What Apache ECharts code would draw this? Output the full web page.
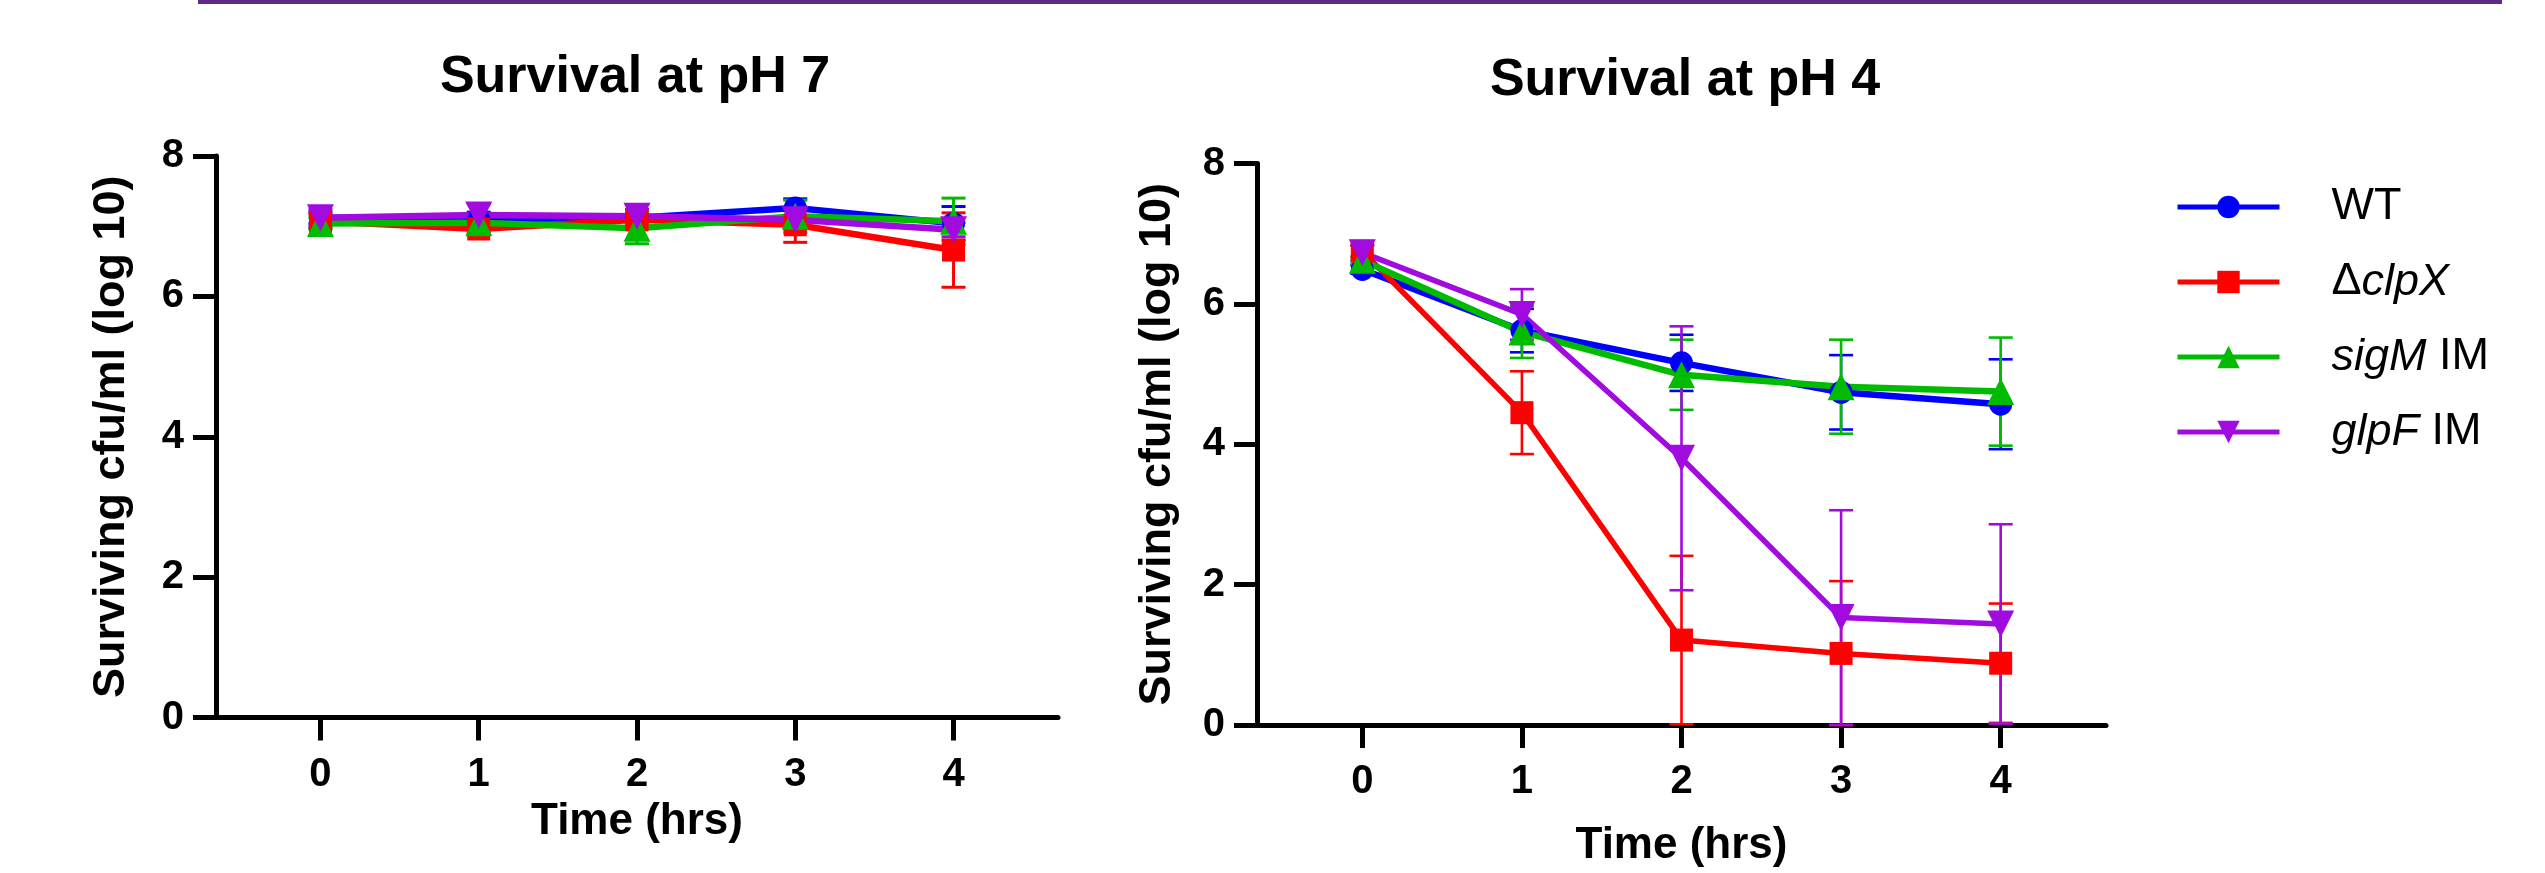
<!DOCTYPE html>
<html>
<head>
<meta charset="utf-8">
<script src="https://cdn.jsdelivr.net/npm/echarts@6/dist/echarts.min.js"></script>
<style>
html,body{margin:0;padding:0;background:#fff;}
#chart{width:2545px;height:873px;}
</style>
</head>
<body>
<div id="chart"></div>
<script>
// ---------- data ----------
const times = [0, 1, 2, 3, 4];
const xTicks = [0, 1, 2, 3, 4];
const yTicks = [0, 2, 4, 6, 8];
const seriesNames = ['WT', 'ΔclpX', 'sigM IM', 'glpF IM'];
const titles = ['Survival at pH 7', 'Survival at pH 4'];

// pH 7 means and SD
const ph7WT     = [7.12, 7.10, 7.12, 7.26, 7.04];
const ph7ClpX   = [7.07, 6.96, 7.09, 7.02, 6.66];
const ph7SigM   = [7.04, 7.05, 6.97, 7.14, 7.07];
const ph7GlpF   = [7.12, 7.16, 7.14, 7.09, 6.95];
const ph7WTsd   = [0.08, 0.10, 0.06, 0.13, 0.24];
const ph7ClpXsd = [0.10, 0.06, 0.10, 0.25, 0.53];
const ph7SigMsd = [0.08, 0.10, 0.22, 0.23, 0.33];
const ph7GlpFsd = [0.12, 0.16, 0.10, 0.13, 0.10];

// pH 4 means and SD
const ph4WT     = [6.49, 5.62, 5.16, 4.74, 4.57];
const ph4ClpX   = [6.75, 4.45, 1.21, 1.02, 0.88];
const ph4SigM   = [6.62, 5.60, 4.99, 4.82, 4.75];
const ph4GlpF   = [6.73, 5.85, 3.80, 1.53, 1.44];
const ph4WTsd   = [0.06, 0.31, 0.40, 0.53, 0.64];
const ph4ClpXsd = [0.08, 0.59, 1.20, 1.03, 0.85];
const ph4SigMsd = [0.05, 0.37, 0.50, 0.67, 0.77];
const ph4GlpFsd = [0.11, 0.36, 1.88, 1.53, 1.42];

// ---------- styling ----------
const FONT = "'Liberation Sans', Arial, Helvetica, sans-serif";
const colors = ['#0000FF', '#FF0000', '#00BB00', '#A10BE0'];
const symbols = ['circle', 'rect', 'triangle', 'triangle'];
const symbolSizes = [23, 23, 27, 27];
const symbolRotates = [0, 0, 0, 180];

const panels = [
  { means: [ph7WT, ph7ClpX, ph7SigM, ph7GlpF], sds: [ph7WTsd, ph7ClpXsd, ph7SigMsd, ph7GlpFsd] },
  { means: [ph4WT, ph4ClpX, ph4SigM, ph4GlpF], sds: [ph4WTsd, ph4ClpXsd, ph4SigMsd, ph4GlpFsd] }
];

const grids = [
  { left: 216, top: 156, width: 842, height: 561.5 },
  { left: 1257, top: 163.5, width: 849, height: 564 }
];

function xAxisFor(g, gap) {
  return {
    gridIndex: g, type: 'value', min: -0.66, max: 4.66,
    axisLine: { show: true, onZero: false, lineStyle: { color: '#000', width: 5 } },
    axisTick: { show: true, customValues: xTicks, length: 23, lineStyle: { color: '#000', width: 5 } },
    axisLabel: { customValues: xTicks, margin: 37, fontSize: 40, fontWeight: 'bold', color: '#000', fontFamily: FONT },
    splitLine: { show: false },
    name: 'Time (hrs)', nameLocation: 'middle', nameGap: gap,
    nameTextStyle: { fontSize: 44, fontWeight: 'bold', color: '#000', fontFamily: FONT, lineHeight: 44 }
  };
}
function yAxisFor(g, gap) {
  return {
    gridIndex: g, type: 'value', min: yTicks[0], max: yTicks[yTicks.length - 1], interval: 2,
    axisLine: { show: true, onZero: false, lineStyle: { color: '#000', width: 5 } },
    axisTick: { show: true, length: 23, lineStyle: { color: '#000', width: 5 } },
    axisLabel: { margin: 32, fontSize: 40, fontWeight: 'bold', color: '#000', fontFamily: FONT },
    splitLine: { show: false },
    name: 'Surviving cfu/ml (log 10)', nameLocation: 'middle', nameRotate: 90, nameGap: gap,
    nameTextStyle: { fontSize: 45, fontWeight: 'bold', color: '#000', fontFamily: FONT, lineHeight: 45 }
  };
}

const series = [];
panels.forEach((p, g) => {
  for (let s = 0; s < 4; s++) {
    const color = colors[s];
    const capHalf = 12;
    const errW = g === 0 ? 3 : 2.6;
    series.push({
      type: 'custom', name: seriesNames[s] + ' err' + g,
      xAxisIndex: g, yAxisIndex: g,
      encode: { x: 0, y: 1 },
      data: times.map((t, i) => [t, p.means[s][i], p.sds[s][i]]),
      clip: false,
      renderItem: function (params, api) {
        const x = api.value(0), m = api.value(1), sd = api.value(2);
        const lo = Math.max(0, m - sd), hi = m + sd;
        const a = api.coord([x, hi]), b = api.coord([x, lo]);
        const st = { stroke: color, lineWidth: errW };
        return {
          type: 'group',
          children: [
            { type: 'line', shape: { x1: a[0], y1: a[1], x2: b[0], y2: b[1] }, style: st },
            { type: 'line', shape: { x1: a[0] - capHalf, y1: a[1], x2: a[0] + capHalf, y2: a[1] }, style: st },
            { type: 'line', shape: { x1: b[0] - capHalf, y1: b[1], x2: b[0] + capHalf, y2: b[1] }, style: st }
          ]
        };
      }
    });
    series.push({
      type: 'line', name: seriesNames[s],
      xAxisIndex: g, yAxisIndex: g,
      data: times.map((t, i) => [t, p.means[s][i]]),
      symbol: symbols[s], symbolSize: symbolSizes[s], symbolRotate: symbolRotates[s],
      showAllSymbol: true,
      lineStyle: { color: color, width: (g === 1 && (s === 1 || s === 3)) ? 5.5 : 6.5 },
      itemStyle: { color: color },
      clip: false
    });
  }
});

const italic = { fontStyle: 'italic', fontSize: 45, fontFamily: FONT, color: '#000', lineHeight: 50 };
const legendFmt = {
  'WT': 'WT',
  'ΔclpX': 'Δ{i|clpX}',
  'sigM IM': '{i|sigM} IM',
  'glpF IM': '{i|glpF} IM'
};

const option = {
  animation: false,
  backgroundColor: '#fff',
  title: [
    { text: titles[0], left: 630, top: 47, textAlign: 'center',
      textStyle: { fontSize: 52, fontWeight: 'bold', color: '#000', fontFamily: FONT } },
    { text: titles[1], left: 1680, top: 50, textAlign: 'center',
      textStyle: { fontSize: 52, fontWeight: 'bold', color: '#000', fontFamily: FONT } }
  ],
  graphic: [
    { type: 'rect', left: 198, top: 0, shape: { width: 2304, height: 4 }, style: { fill: '#5E2A84' } }
  ],
  legend: {
    data: seriesNames,
    orient: 'vertical', left: 2175, top: 182, padding: 0,
    itemWidth: 102, itemHeight: 28, itemGap: 25,
    selectedMode: false,
    lineStyle: { width: 5 },
    formatter: function (n) { return legendFmt[n] || n; },
    textStyle: { fontSize: 45, fontFamily: FONT, color: '#000', lineHeight: 50, padding: [0, 0, 0, 47],
      rich: { i: italic } }
  },
  grid: grids,
  xAxis: [xAxisFor(0, 80), xAxisFor(1, 99)],
  yAxis: [yAxisFor(0, 82), yAxisFor(1, 77)],
  series: series
};

const chart = echarts.init(document.getElementById('chart'), null, { renderer: 'canvas' });
chart.setOption(option);
</script>
</body>
</html>
